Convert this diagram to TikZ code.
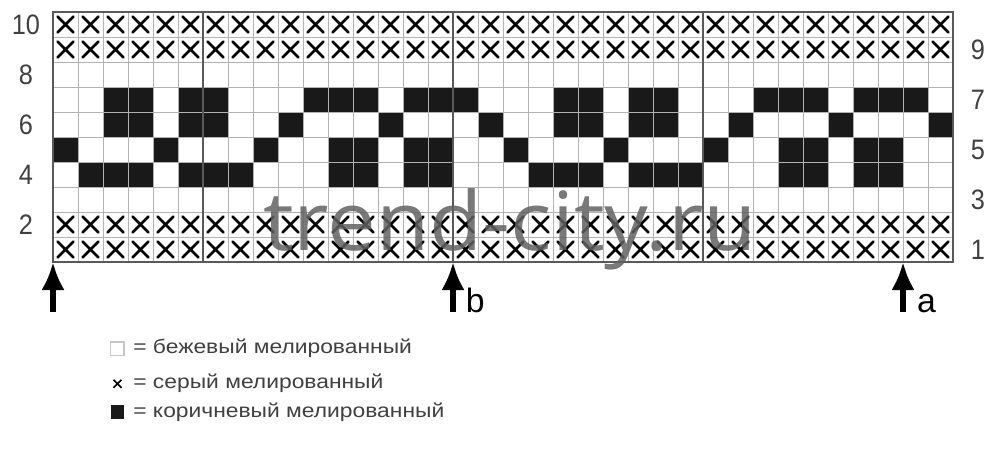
\documentclass[tikz,border=0pt]{standalone}
\usepackage{fontspec}
\setmainfont{Liberation Sans}
\newfontfamily\wmfont{Open Sans}
\usetikzlibrary{arrows.meta}
\tikzset{
    thin grid/.style={draw=gray!60, line width=.7pt},
    thick grid/.style={draw=black!65, line width=1.5pt},
    cross pen/.style={line width=1.9pt, line cap=round},
    row label/.style={font=\fontsize{20}{20}\selectfont, text=black!75, xscale=.9},
    pos arrow/.style={line width=3.6pt, -{Latex[length=7mm,width=5.8mm]}},
    pos label/.style={font=\fontsize{24}{24}\selectfont, anchor=base west, inner sep=0pt},
    key text/.style={font=\fontsize{14}{14}\selectfont, text=black!75, anchor=west, xscale=1.16, inner sep=0pt},
    wmark/.style={font=\wmfont\fontsize{58}{58}\selectfont, text=black!62, text opacity=.85, anchor=base west, inner sep=0pt, xscale=1.065}
}

\begin{document}
\begin{tikzpicture}[x=6.25mm, y=6.25mm]
        \useasboundingbox (-2.12,-7.52) rectangle (38.2,10.48);
        % brown cells, row/columns
        \foreach \r/\cols in {
            7/{2,3,5,6,10,11,12,14,15,16,20,21,23,24,28,29,30,32,33,34},
            6/{2,3,5,6,9,13,17,20,21,23,24,27,31,35},
            5/{0,4,8,11,12,14,15,18,22,26,29,30,32,33},
            4/{1,2,3,5,6,7,11,12,14,15,19,20,21,23,24,25,29,30,32,33}}
            \foreach \c in \cols
                \fill[black!90] (\c,\r-1) rectangle ++(1,1);
        % show grid
        \foreach \c in {1,...,35}
            \draw[thin grid] (\c,0) -- (\c,10);
        \foreach \r in {1,...,9}
            \draw[thin grid] (0,\r) -- (36,\r);
        % grey rows
        \foreach \r in {1,2,9,10}
            \foreach \c in {0,...,35}
                \draw[cross pen] (\c+.18,\r-.82) -- (\c+.82,\r-.18)
                                 (\c+.18,\r-.18) -- (\c+.82,\r-.82);
        \foreach \c in {6,16,26}
            \draw[thick grid] (\c,0) -- (\c,10);
        \draw[thick grid] (0,0) rectangle (36,10);
        % row numbers
        \foreach \r in {2,4,...,10}
            \node[row label] (L\r) at (-1.08,\r-.5) {\r};
        \foreach \r in {1,3,...,9}
            \node[row label] (R\r) at (37,\r-.5) {\r};
        % watermark
        \node[wmark] (wm) at (8.4,.48) {trend-city.ru};
        % repeat arrows
        \foreach \x/\n in {0/o,16/b,34/a} {
            \coordinate (top\n) at (\x,0);
            \coordinate (foot\n) at (\x,-2);
            \draw[pos arrow] (foot\n) -- (top\n);
        }
        \node[pos label] (lb) at (16.5,-2) {b};
        \node[pos label] (la) at (34.55,-2) {a};
        % legend
        \draw[gray!45, line width=.8pt] (2.3,-3.74) rectangle (2.84,-3.2);
        \draw[black, line width=1.2pt] (2.42,-5.03) -- (2.74,-4.71)
                                        (2.42,-4.71) -- (2.74,-5.03);
        \fill[black!90] (2.3,-6.27) rectangle (2.84,-5.73);
        \node[key text] (k1) at (3.2,-3.44) {= бежевый мелированный};
        \node[key text] (k2) at (3.2,-4.84) {= серый мелированный};
        \node[key text] (k3) at (3.2,-6.0) {= коричневый мелированный};
\end{tikzpicture}
\end{document}
